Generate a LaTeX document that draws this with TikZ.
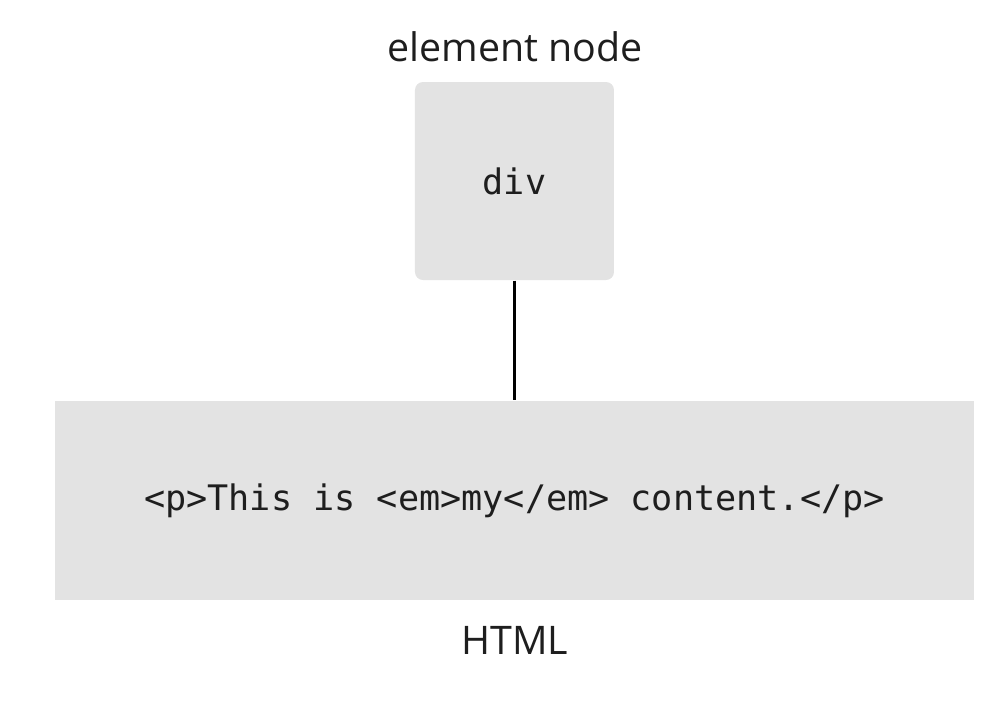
\documentclass[tikz,border=0pt]{standalone}
\usepackage{fontspec}
\setmainfont{Open Sans}
\setmonofont{DejaVu Sans Mono}
\usepackage{xcolor}
\definecolor{boxgray}{HTML}{E3E3E3}
\definecolor{inkgray}{HTML}{1E1E1E}

\begin{document}
\begin{tikzpicture}[
            every node/.style={
            inner sep=0pt, text centered, text=inkgray}
        ]
        \tikzstyle {elem_box} = [rectangle, rounded corners=0.08cm, fill=boxgray, minimum width=1.99cm, minimum height=1.98cm, font=\ttfamily\fontsize{10}{12}\selectfont]
        \tikzstyle {html_box} = [rectangle, fill=boxgray, minimum width=9.19cm, minimum height=1.99cm, font=\ttfamily\fontsize{10}{12}\selectfont]
        \tikzstyle {caption} = [font=\fontsize{11.2}{14}\selectfont]

        \useasboundingbox (0,0) rectangle (10.06,-7.12);

        \node [elem_box] (div) at (5.145,-1.81) {div};
        \node [html_box] (html) at (5.145,-5.005) {\raisebox{-0.05cm}{<p>This is <em>my</em> content.</p>}};
        \node [caption] (elem_lbl) at (5.15,-0.47) {element node};
        \node [caption] (html_lbl) at (5.15,-6.40) {HTML};

        \draw [line width=0.8pt, black] (div) -- (html);

        \end{tikzpicture}
\end{document}
